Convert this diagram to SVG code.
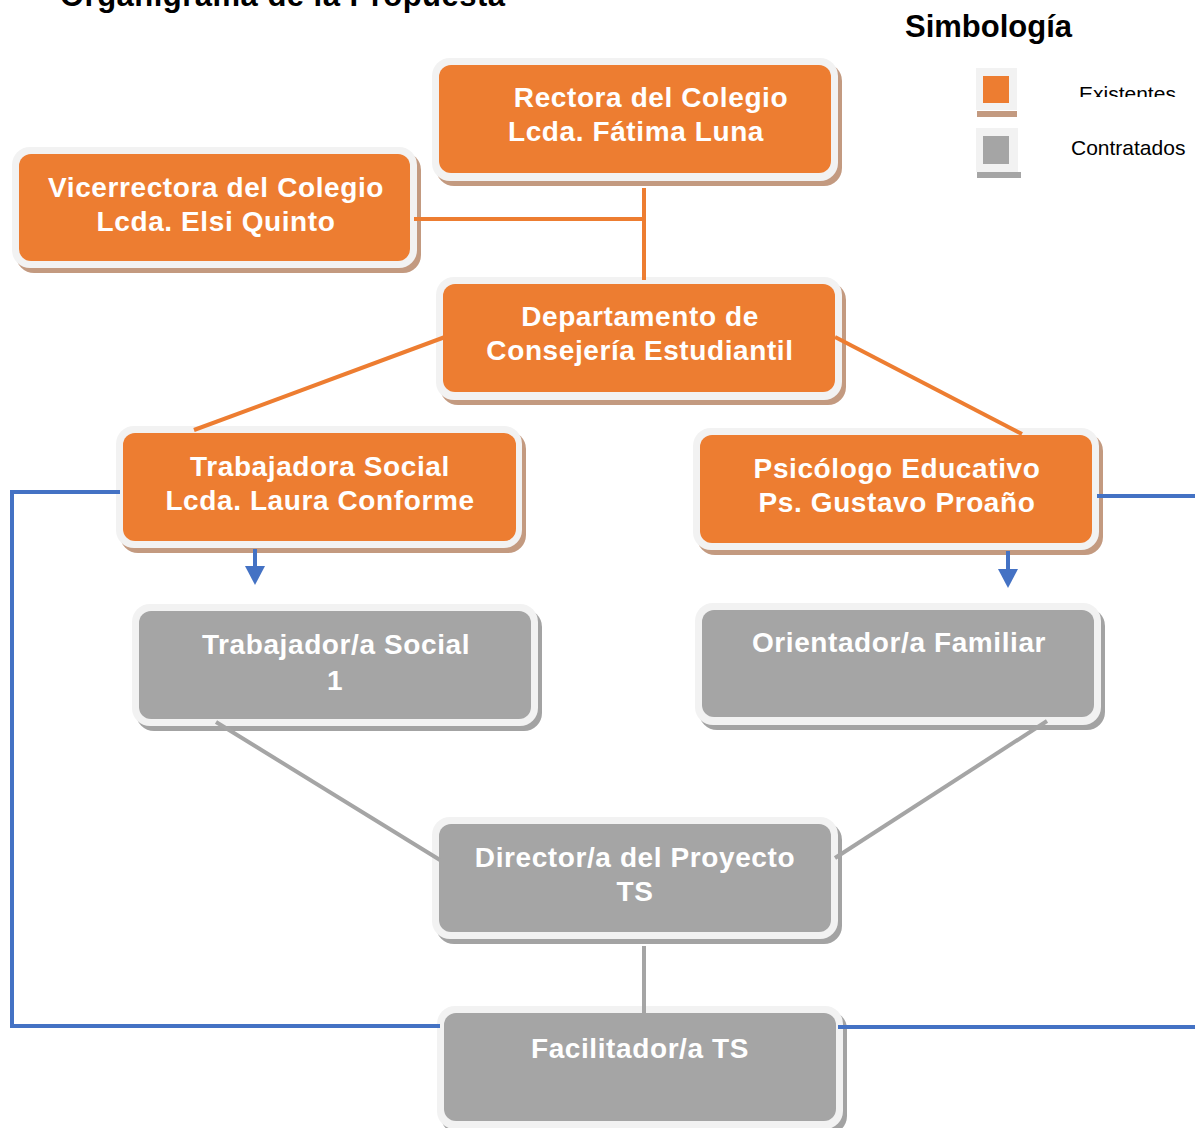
<svg xmlns="http://www.w3.org/2000/svg" width="1195" height="1128" viewBox="0 0 1195 1128">
<style>
.sh-o{fill:#c39a80}
.sh-g{fill:#a3a3a3}
.frame{fill:#f2f2f2}
.in-o{fill:#ed7d31}
.in-g{fill:#a5a5a5}
.lbl{font-family:"Liberation Sans",Arial,sans-serif;font-weight:bold;font-size:28px;fill:#ffffff;text-anchor:middle;letter-spacing:0.6px}
.c-o{stroke:#ed7d31;stroke-width:4;fill:none}
.c-g{stroke:#a5a5a5;stroke-width:4;fill:none}
.c-b{stroke:#4472c4;stroke-width:4;fill:none}
.ah{fill:#4472c4}
.hd{font-family:"Liberation Sans",Arial,sans-serif;font-weight:bold;fill:#000000}
.lg{font-family:"Liberation Sans",Arial,sans-serif;font-size:21px;fill:#000000}
</style>
<defs>
<clipPath id="clipEx"><rect x="1060" y="70" width="135" height="27"/></clipPath>
</defs>
<rect width="1195" height="1128" fill="#ffffff"/>

<text class="hd" x="60" y="6" font-size="31" textLength="445">Organigrama de la Propuesta</text>

<g id="legend">
<text class="hd" x="905" y="37" font-size="31">Simbología</text>
<rect x="977" y="111" width="40" height="6" fill="#c39a80"/>
<rect x="976" y="68" width="41" height="42" fill="#f2f2f2"/>
<rect x="983" y="76" width="26" height="27" fill="#ed7d31"/>
<text class="lg" x="1079" y="101" clip-path="url(#clipEx)">Existentes</text>
<rect x="977" y="172" width="44" height="6" fill="#a5a5a5"/>
<rect x="976" y="128" width="42" height="44" fill="#f2f2f2"/>
<rect x="983" y="136" width="26" height="28" fill="#a5a5a5"/>
<text class="lg" x="1071" y="155">Contratados</text>
</g>

<g id="rectora">
<rect class="sh-o" x="436" y="63" width="406" height="123" rx="18"/>
<rect class="frame" x="432" y="58" width="406" height="123" rx="18"/>
<rect class="in-o" x="439" y="65" width="392" height="108" rx="12"/>
<text class="lbl" x="651" y="107">Rectora del Colegio</text>
<text class="lbl" x="636" y="141">Lcda. Fátima Luna</text>
</g>

<g id="vicerrectora">
<rect class="sh-o" x="16" y="152" width="405" height="121" rx="18"/>
<rect class="frame" x="12" y="147" width="405" height="121" rx="18"/>
<rect class="in-o" x="19" y="154" width="391" height="107" rx="12"/>
<text class="lbl" x="216" y="197">Vicerrectora del Colegio</text>
<text class="lbl" x="216" y="231">Lcda. Elsi Quinto</text>
</g>

<g id="departamento">
<rect class="sh-o" x="440" y="282" width="406" height="123" rx="18"/>
<rect class="frame" x="436" y="277" width="406" height="123" rx="18"/>
<rect class="in-o" x="443" y="284" width="392" height="108" rx="12"/>
<text class="lbl" x="640" y="326">Departamento de</text>
<text class="lbl" x="640" y="360">Consejería Estudiantil</text>
</g>

<g id="trabajadora">
<rect class="sh-o" x="120" y="431" width="406" height="122" rx="18"/>
<rect class="frame" x="116" y="426" width="406" height="122" rx="18"/>
<rect class="in-o" x="123" y="433" width="393" height="108" rx="12"/>
<text class="lbl" x="320" y="476">Trabajadora Social</text>
<text class="lbl" x="320" y="510">Lcda. Laura Conforme</text>
</g>

<g id="psicologo">
<rect class="sh-o" x="697" y="433" width="406" height="122" rx="18"/>
<rect class="frame" x="693" y="428" width="406" height="122" rx="18"/>
<rect class="in-o" x="700" y="435" width="392" height="108" rx="12"/>
<text class="lbl" x="897" y="478">Psicólogo Educativo</text>
<text class="lbl" x="897" y="512">Ps. Gustavo Proaño</text>
</g>

<g id="trabajador1">
<rect class="sh-g" x="136" y="609" width="406" height="122" rx="18"/>
<rect class="frame" x="132" y="604" width="406" height="122" rx="18"/>
<rect class="in-g" x="139" y="611" width="392" height="108" rx="12"/>
<text class="lbl" x="336" y="654">Trabajador/a Social</text>
<text class="lbl" x="335" y="690">1</text>
</g>

<g id="orientador">
<rect class="sh-g" x="699" y="608" width="406" height="122" rx="18"/>
<rect class="frame" x="695" y="603" width="406" height="122" rx="18"/>
<rect class="in-g" x="702" y="610" width="392" height="107" rx="12"/>
<text class="lbl" x="899" y="652">Orientador/a Familiar</text>
</g>

<g id="director">
<rect class="sh-g" x="436" y="822" width="406" height="122" rx="18"/>
<rect class="frame" x="432" y="817" width="406" height="122" rx="18"/>
<rect class="in-g" x="439" y="824" width="392" height="108" rx="12"/>
<text class="lbl" x="635" y="867">Director/a del Proyecto</text>
<text class="lbl" x="635" y="901">TS</text>
</g>

<g id="facilitador">
<rect class="sh-g" x="441" y="1011" width="406" height="123" rx="18"/>
<rect class="frame" x="437" y="1006" width="406" height="123" rx="18"/>
<rect class="in-g" x="444" y="1013" width="392" height="108" rx="12"/>
<text class="lbl" x="640" y="1058">Facilitador/a TS</text>
</g>

<g id="connectors">
<line class="c-o" x1="644" y1="188" x2="644" y2="280"/>
<line class="c-o" x1="414" y1="219" x2="644" y2="219"/>
<line class="c-o" x1="445" y1="337" x2="194" y2="430"/>
<line class="c-o" x1="835" y1="337" x2="1022" y2="434"/>
<line class="c-g" x1="216" y1="722" x2="440" y2="860"/>
<line class="c-g" x1="1047" y1="721" x2="835" y2="858"/>
<line class="c-g" x1="644" y1="946" x2="644" y2="1013"/>
<polyline class="c-b" points="120,492 12,492 12,1026 440,1026"/>
<line class="c-b" x1="838" y1="1027" x2="1195" y2="1027"/>
<line class="c-b" x1="1097" y1="496" x2="1195" y2="496"/>
<line class="c-b" x1="255" y1="549" x2="255" y2="567"/>
<polygon class="ah" points="245,566 265,566 255,585"/>
<line class="c-b" x1="1008" y1="551" x2="1008" y2="570"/>
<polygon class="ah" points="998,569 1018,569 1008,588"/>
</g>
</svg>
